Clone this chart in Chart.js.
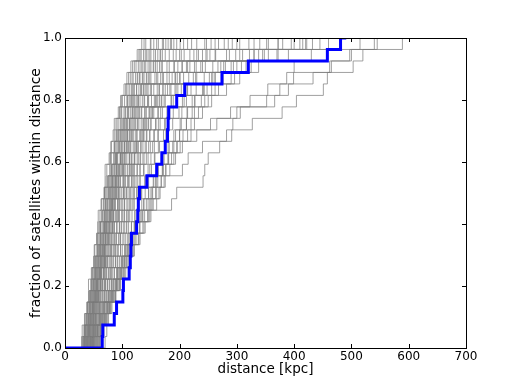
<!DOCTYPE html>
<html><head><meta charset="utf-8">
<script src="https://cdn.jsdelivr.net/npm/chart.js@4/dist/chart.umd.min.js"></script>
<style>html,body{margin:0;padding:0;background:#fff;}canvas{display:block;}</style>
</head><body>
<canvas id="c" width="518" height="387"></canvas>
<script>
// ---- data (distances in kpc at which each cumulative step occurs) ----
const N_SAT = 27;
const xTicks = [0, 100, 200, 300, 400, 500, 600, 700];
const yTicks = [0.0, 0.2, 0.4, 0.6, 0.8, 1.0];

const observed = [65, 66, 86, 90, 101, 102, 112, 114, 115, 116, 125, 127, 128, 130, 143, 160, 169, 175, 179, 180, 181, 195, 209, 274, 320, 458, 481];
const observedEnd = 491;

const run01 = [29, 30, 34, 38, 41, 41, 47, 50, 51, 55, 57, 58, 64, 68, 70, 70, 77, 81, 84, 86, 93, 99, 103, 108, 118, 126, 134];
const run02 = [32, 34, 35, 40, 44, 46, 48, 53, 56, 56, 60, 65, 67, 69, 75, 78, 79, 86, 90, 91, 96, 100, 110, 114, 121, 131, 138];
const run03 = [33, 36, 38, 39, 45, 49, 52, 53, 58, 61, 62, 66, 71, 73, 76, 82, 85, 86, 93, 97, 98, 108, 113, 119, 128, 133, 149];
const run04 = [34, 38, 41, 44, 45, 51, 53, 57, 60, 61, 66, 69, 71, 77, 79, 82, 88, 91, 94, 101, 105, 109, 118, 126, 131, 142, 150];
const run05 = [36, 37, 43, 45, 49, 51, 56, 59, 60, 65, 69, 70, 75, 79, 81, 87, 90, 93, 99, 102, 110, 113, 121, 131, 136, 148, 163];
const run06 = [37, 41, 42, 47, 51, 53, 58, 59, 64, 67, 69, 74, 78, 80, 85, 89, 91, 98, 100, 108, 111, 120, 125, 135, 145, 150, 170];
const run07 = [38, 40, 46, 48, 51, 56, 58, 63, 66, 68, 73, 75, 80, 84, 86, 92, 96, 99, 106, 109, 117, 121, 132, 138, 150, 158, 180];
const run08 = [39, 43, 45, 50, 54, 56, 61, 63, 68, 70, 75, 77, 82, 86, 88, 95, 97, 104, 107, 115, 119, 128, 134, 146, 155, 170, 186];
const run09 = [40, 44, 48, 50, 56, 57, 62, 66, 68, 73, 75, 81, 83, 89, 91, 98, 100, 107, 113, 117, 126, 131, 143, 150, 165, 175, 201];
const run10 = [42, 44, 50, 51, 55, 61, 62, 68, 69, 75, 77, 83, 85, 91, 94, 100, 103, 111, 115, 123, 128, 139, 145, 160, 170, 189, 207];
const run11 = [42, 47, 49, 55, 56, 62, 64, 69, 71, 77, 79, 85, 87, 94, 96, 103, 106, 114, 118, 127, 133, 145, 151, 167, 178, 200, 221];
const run12 = [44, 46, 52, 54, 60, 61, 67, 69, 75, 77, 83, 85, 92, 94, 101, 103, 112, 115, 124, 129, 139, 146, 161, 170, 191, 208, 244];
const run13 = [44, 49, 51, 57, 59, 65, 67, 73, 75, 81, 83, 90, 92, 99, 102, 109, 113, 121, 126, 136, 142, 156, 164, 182, 197, 225, 255];
const run14 = [46, 49, 56, 60, 66, 70, 76, 80, 85, 90, 95, 99, 104, 107, 112, 116, 121, 125, 133, 139, 150, 158, 175, 187, 212, 233, 278];
const run15 = [47, 54, 58, 64, 69, 74, 79, 84, 88, 94, 98, 104, 108, 113, 117, 121, 126, 132, 138, 146, 153, 169, 179, 200, 218, 253, 292];
const run16 = [49, 53, 61, 66, 72, 77, 82, 88, 92, 97, 103, 108, 113, 117, 121, 126, 131, 136, 143, 150, 162, 173, 192, 207, 237, 263, 321];
const run17 = [50, 57, 63, 69, 75, 81, 86, 91, 97, 101, 107, 111, 117, 121, 127, 131, 136, 142, 148, 158, 167, 185, 197, 224, 245, 287, 340];
const run18 = [53, 58, 66, 72, 79, 84, 90, 95, 100, 106, 111, 117, 121, 126, 131, 137, 142, 149, 156, 163, 178, 189, 213, 230, 267, 298, 372];
const run19 = [54, 62, 68, 74, 82, 89, 94, 100, 105, 110, 116, 122, 127, 133, 139, 145, 150, 156, 162, 174, 183, 205, 220, 252, 277, 330, 395];
const run20 = [58, 63, 71, 78, 85, 92, 98, 104, 110, 115, 121, 128, 134, 140, 146, 151, 157, 163, 172, 181, 199, 212, 242, 262, 308, 348, 432];
const run21 = [37, 42, 44, 49, 53, 55, 60, 64, 65, 71, 72, 79, 82, 84, 90, 93, 97, 104, 109, 113, 122, 126, 137, 143, 158, 166, 190];
const run22 = [45, 50, 53, 58, 58, 66, 69, 71, 80, 82, 86, 92, 95, 102, 105, 112, 117, 124, 131, 141, 147, 162, 171, 193, 205, 240, 268];
const run23 = [62, 68, 72, 78, 84, 90, 97, 103, 110, 117, 122, 131, 138, 146, 154, 162, 171, 180, 190, 201, 213, 227, 243, 262, 290, 330, 400];
const run24 = [70, 73, 76, 82, 88, 95, 101, 108, 115, 122, 126, 136, 150, 152, 160, 170, 180, 188, 200, 212, 226, 244, 262, 290, 325, 370, 460];
const run25 = [55, 62, 70, 78, 86, 94, 102, 110, 118, 131, 140, 148, 186, 195, 241, 244, 250, 270, 291, 327, 379, 404, 451, 458, 503, 520, 589];
const run26 = [50, 57, 66, 74, 82, 90, 98, 105, 113, 120, 130, 150, 160, 166, 175, 205, 215, 240, 282, 293, 306, 366, 390, 433, 462, 497, 540];
const run27 = [45, 52, 60, 68, 76, 84, 92, 100, 108, 116, 124, 133, 142, 150, 158, 170, 180, 195, 220, 254, 289, 323, 354, 387, 400, 430, 515];
const run28 = [58, 64, 72, 80, 88, 96, 104, 112, 120, 128, 136, 144, 152, 160, 168, 176, 190, 205, 230, 265, 300, 352, 375, 399, 465, 500, 545];
const run29 = [30, 33, 37, 39, 42, 45, 46, 51, 52, 57, 59, 61, 63, 69, 72, 73, 79, 80, 86, 89, 95, 97, 106, 111, 115, 129, 141];
const run30 = [31, 35, 37, 42, 43, 47, 50, 51, 57, 58, 62, 64, 68, 71, 74, 80, 81, 87, 89, 94, 99, 104, 107, 117, 124, 137, 155];
const run31 = [33, 34, 39, 43, 46, 47, 52, 55, 56, 62, 63, 68, 70, 75, 78, 81, 86, 89, 92, 99, 103, 110, 116, 123, 134, 140, 160];
const run32 = [35, 39, 40, 44, 48, 50, 54, 56, 62, 63, 67, 72, 73, 78, 83, 84, 90, 94, 97, 104, 106, 116, 120, 130, 139, 155, 176];
const run33 = [36, 39, 44, 46, 50, 53, 55, 61, 62, 66, 71, 72, 77, 81, 83, 90, 92, 96, 102, 107, 114, 118, 129, 136, 148, 162, 184];
const run34 = [38, 42, 44, 48, 52, 55, 57, 62, 65, 68, 70, 77, 79, 83, 88, 90, 97, 100, 104, 112, 118, 124, 133, 142, 154, 167, 195];
const run35 = [39, 41, 47, 49, 53, 57, 60, 61, 67, 71, 72, 78, 81, 87, 89, 94, 99, 103, 109, 113, 122, 128, 138, 148, 161, 182, 214];
const run36 = [40, 45, 46, 52, 54, 59, 61, 65, 70, 71, 77, 80, 83, 88, 93, 96, 101, 107, 112, 119, 124, 135, 141, 157, 168, 194, 230];
const run37 = [41, 43, 49, 52, 57, 58, 64, 67, 69, 74, 78, 80, 86, 90, 93, 100, 104, 109, 116, 121, 130, 138, 149, 162, 182, 203, 247];
const run38 = [43, 47, 50, 53, 58, 62, 63, 70, 72, 76, 81, 84, 88, 93, 97, 102, 108, 112, 120, 126, 134, 144, 155, 172, 190, 218, 262];
const run39 = [44, 48, 53, 56, 59, 64, 68, 71, 77, 79, 84, 88, 93, 96, 103, 106, 113, 119, 124, 133, 140, 151, 165, 178, 204, 230, 285];
const run40 = [46, 50, 53, 59, 62, 66, 71, 74, 79, 84, 86, 93, 96, 102, 105, 113, 116, 124, 131, 137, 147, 160, 171, 192, 214, 248, 305];
const run41 = [47, 52, 56, 60, 65, 69, 73, 78, 81, 87, 91, 95, 101, 104, 111, 115, 122, 128, 135, 145, 152, 168, 183, 201, 229, 262, 330];
const run42 = [49, 53, 59, 62, 68, 71, 77, 81, 86, 89, 95, 100, 104, 110, 116, 120, 128, 133, 142, 150, 163, 175, 194, 216, 240, 282, 355];
const run43 = [51, 56, 60, 65, 70, 74, 80, 84, 89, 94, 99, 103, 110, 114, 119, 126, 132, 140, 148, 159, 170, 186, 203, 228, 258, 305, 380];
const run44 = [52, 57, 63, 67, 73, 78, 82, 88, 93, 97, 103, 108, 114, 120, 124, 131, 138, 146, 155, 166, 180, 196, 214, 243, 272, 322, 410];
const run45 = [56, 60, 66, 70, 77, 81, 86, 92, 97, 103, 108, 113, 119, 125, 131, 138, 145, 153, 163, 175, 189, 208, 229, 256, 294, 345, 422];
const run46 = [60, 65, 69, 75, 81, 87, 92, 99, 104, 110, 116, 122, 129, 134, 141, 148, 156, 165, 176, 188, 204, 222, 248, 276, 316, 390, 445];
const run47 = [34, 36, 41, 42, 47, 49, 53, 58, 59, 63, 68, 70, 74, 76, 82, 86, 88, 95, 96, 105, 109, 115, 125, 127, 141, 145, 172];
const run48 = [48, 51, 55, 61, 63, 70, 72, 75, 82, 86, 90, 94, 99, 107, 109, 118, 121, 127, 137, 142, 155, 165, 185, 196, 226, 246, 300];
const run49 = [52, 58, 64, 72, 80, 88, 95, 103, 110, 118, 126, 135, 145, 153, 162, 172, 181, 190, 200, 212, 222, 238, 256, 275, 300, 338, 372];
const run50 = [57, 61, 68, 76, 83, 91, 99, 107, 116, 124, 131, 139, 148, 158, 168, 176, 186, 196, 206, 220, 233, 250, 268, 296, 320, 355, 415];
const run51 = [48, 55, 62, 68, 77, 84, 91, 98, 106, 113, 121, 129, 137, 146, 155, 163, 173, 182, 193, 203, 214, 226, 240, 258, 280, 310, 352];
const run52 = [60, 66, 74, 80, 89, 97, 106, 114, 121, 129, 138, 146, 154, 164, 173, 183, 193, 201, 214, 226, 240, 256, 282, 305, 338, 372, 420];
const runEnds = [150, 165, 180, 190, 205, 198, 232, 220, 262, 245, 290, 272, 312, 330, 318, 362, 382, 412, 442, 472,
  240, 300, 430, 500, 646, 600, 558, 625, 175, 210, 186, 240, 205, 280, 250, 300, 270, 340, 310, 350,
  390, 380, 420, 445, 455, 470, 196, 330, 400, 440, 380, 460];

const simulatedRuns = [run01, run02, run03, run04, run05, run06, run07, run08, run09, run10,
  run11, run12, run13, run14, run15, run16, run17, run18, run19, run20,
  run21, run22, run23, run24, run25, run26, run27, run28, run29, run30,
  run31, run32, run33, run34, run35, run36, run37, run38, run39, run40,
  run41, run42, run43, run44, run45, run46, run47, run48, run49, run50,
  run51, run52];

// ---- build step tables: (0,0), (d_k, k/N), (end, 1) ----
function cumulative(dists, end) {
  const pts = [{x: 0, y: 0}];
  dists.forEach((d, i) => pts.push({x: d, y: (i + 1) / N_SAT}));
  pts.push({x: end, y: 1});
  return pts;
}

const datasets = [{
  data: cumulative(observed, observedEnd),
  borderColor: '#0000ff', borderWidth: 3, stepped: 'before',
  pointRadius: 0, fill: false, borderCapStyle: 'butt', borderJoinStyle: 'miter'
}];
simulatedRuns.forEach((r, i) => datasets.push({
  data: cumulative(r, runEnds[i]),
  borderColor: 'rgba(125,125,125,0.72)', borderWidth: 1, stepped: 'before',
  pointRadius: 0, fill: false
}));

const frameTicks = {
  id: 'frameTicks',
  afterDatasetsDraw(chart) {
    const {ctx, chartArea: a, scales: {x, y}} = chart;
    ctx.save();
    ctx.strokeStyle = '#000';
    ctx.lineWidth = 1;
    ctx.beginPath();
    x.ticks.forEach(t => {
      const px = Math.round(x.getPixelForValue(t.value)) + 0.5;
      ctx.moveTo(px, a.bottom); ctx.lineTo(px, a.bottom - 4);
      ctx.moveTo(px, a.top); ctx.lineTo(px, a.top + 4);
    });
    y.ticks.forEach(t => {
      const py = Math.round(y.getPixelForValue(t.value)) + 0.5;
      ctx.moveTo(a.left, py); ctx.lineTo(a.left + 4, py);
      ctx.moveTo(a.right, py); ctx.lineTo(a.right - 4, py);
    });
    ctx.stroke();
    ctx.strokeRect(Math.round(a.left) + 0.5, Math.round(a.top) + 0.5,
      Math.round(a.right - a.left), Math.round(a.bottom - a.top));
    ctx.restore();
  }
};

Chart.defaults.font.family = "'DejaVu Sans', sans-serif";
Chart.defaults.color = '#000';

new Chart(document.getElementById('c'), {
  type: 'line',
  data: {datasets},
  options: {
    responsive: false,
    animation: false,
    devicePixelRatio: 1,
    events: [],
    layout: {padding: {left: 0, top: 38, right: 52, bottom: 0}},
    plugins: {legend: {display: false}, tooltip: {enabled: false}},
    scales: {
      x: {
        type: 'linear', min: 0, max: 700,
        afterBuildTicks: s => { s.ticks = xTicks.map(v => ({value: v})); },
        afterFit: s => { s.height = 39; },
        grid: {display: false, drawTicks: false},
        border: {display: false},
        ticks: {font: {size: 12}, padding: 2, maxRotation: 0, color: '#000',
          callback: v => String(v)},
        title: {display: true, text: 'distance [kpc]', font: {size: 13.5},
          padding: {top: 0, bottom: 9}, color: '#000'}
      },
      y: {
        type: 'linear', min: 0, max: 1,
        afterBuildTicks: s => { s.ticks = yTicks.map(v => ({value: v})); },
        afterFit: s => { s.width = 65; },
        grid: {display: false, drawTicks: false},
        border: {display: false},
        ticks: {font: {size: 12}, padding: 3, color: '#000',
          callback: v => Number(v).toFixed(1)},
        title: {display: true, text: 'fraction of satellites within distance',
          font: {size: 14}, padding: {top: 28, bottom: 0}, color: '#000'}
      }
    }
  },
  plugins: [frameTicks]
});
</script>
</body></html>
